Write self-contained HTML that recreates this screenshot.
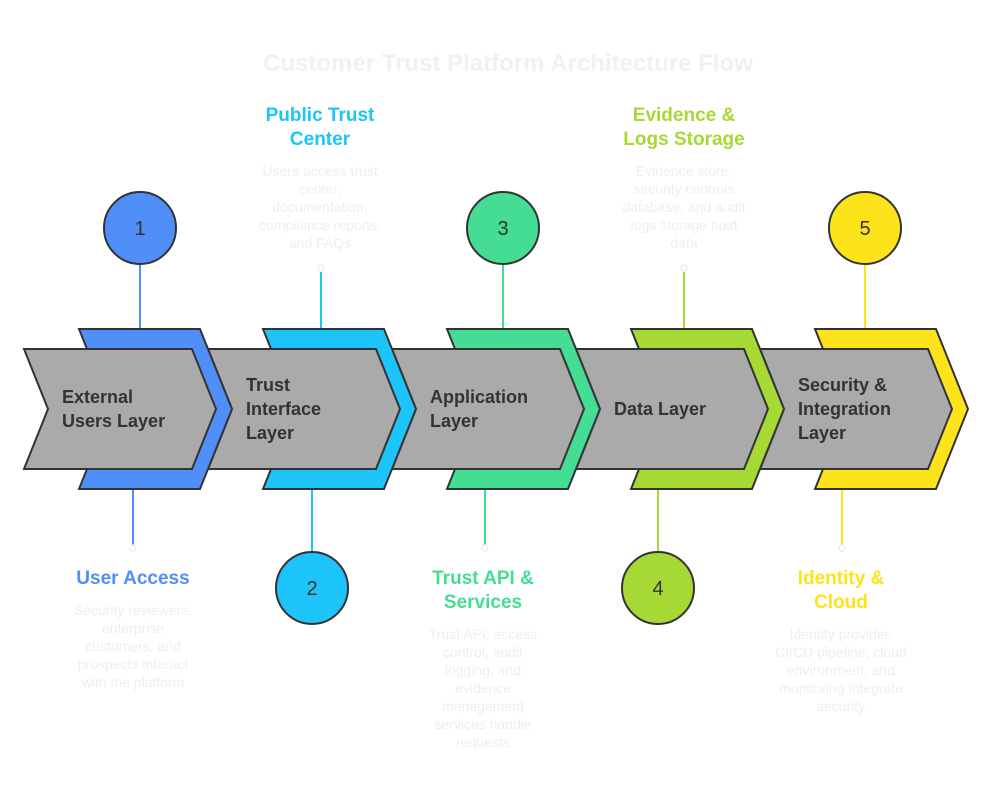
<!DOCTYPE html>
<html><head><meta charset="utf-8"><style>
body{margin:0;background:#fff;}
svg{display:block;font-family:"Liberation Sans",sans-serif;}
.h{font-weight:bold;font-size:19px;text-anchor:middle;}
.d{font-size:14px;fill:#eeeeee;text-anchor:middle;}
.n{font-weight:bold;font-size:18px;fill:#333;}
.c{font-size:20px;fill:#333;text-anchor:middle;}
</style></head><body>
<svg width="1008" height="799" viewBox="0 0 1008 799">
<text x="508" y="71" text-anchor="middle" font-weight="bold" font-size="24" fill="#f1f1f1">Customer Trust Platform Architecture Flow</text>

<g stroke-width="2">
<line x1="140" y1="264" x2="140" y2="330" stroke="#4f8ff7"/>
<line x1="321" y1="272" x2="321" y2="330" stroke="#1cc4f9"/>
<line x1="503" y1="264" x2="503" y2="330" stroke="#45dc93"/>
<line x1="684" y1="272" x2="684" y2="330" stroke="#a6d934"/>
<line x1="865" y1="264" x2="865" y2="330" stroke="#fde319"/>
<line x1="133" y1="488" x2="133" y2="545" stroke="#4f8ff7"/>
<line x1="312" y1="488" x2="312" y2="552" stroke="#1cc4f9"/>
<line x1="485" y1="488" x2="485" y2="545" stroke="#45dc93"/>
<line x1="658" y1="488" x2="658" y2="552" stroke="#a6d934"/>
<line x1="842" y1="488" x2="842" y2="545" stroke="#fde319"/>
</g>
<g fill="#fff" stroke="#eee" stroke-width="1.5">
<circle cx="321" cy="268" r="3"/><circle cx="684" cy="268" r="3"/>
<circle cx="133" cy="548" r="3"/><circle cx="485" cy="548" r="3"/><circle cx="842" cy="548" r="3"/>
</g>

<g stroke="#333" stroke-width="2" stroke-linejoin="miter">
<g transform="translate(736,0)"><polygon points="79,329 200,329 232,409 200,489 79,489 111,409" fill="#fde319"/><polygon points="24,349 192,349 216,409 192,469 24,469 48,409" fill="#aaaaaa"/></g>
<g transform="translate(552,0)"><polygon points="79,329 200,329 232,409 200,489 79,489 111,409" fill="#a6d934"/><polygon points="24,349 192,349 216,409 192,469 24,469 48,409" fill="#aaaaaa"/></g>
<g transform="translate(368,0)"><polygon points="79,329 200,329 232,409 200,489 79,489 111,409" fill="#45dc93"/><polygon points="24,349 192,349 216,409 192,469 24,469 48,409" fill="#aaaaaa"/></g>
<g transform="translate(184,0)"><polygon points="79,329 200,329 232,409 200,489 79,489 111,409" fill="#1cc4f9"/><polygon points="24,349 192,349 216,409 192,469 24,469 48,409" fill="#aaaaaa"/></g>
<g><polygon points="79,329 200,329 232,409 200,489 79,489 111,409" fill="#4f8ff7"/><polygon points="24,349 192,349 216,409 192,469 24,469 48,409" fill="#aaaaaa"/></g>
</g>

<text class="n" x="62" y="403">External</text><text class="n" x="62" y="427">Users Layer</text>
<text class="n" x="246" y="391">Trust</text><text class="n" x="246" y="415">Interface</text><text class="n" x="246" y="439">Layer</text>
<text class="n" x="430" y="403">Application</text><text class="n" x="430" y="427">Layer</text>
<text class="n" x="614" y="415">Data Layer</text>
<text class="n" x="798" y="391">Security &amp;</text><text class="n" x="798" y="415">Integration</text><text class="n" x="798" y="439">Layer</text>

<g stroke="#333" stroke-width="2">
<circle cx="140" cy="228" r="36" fill="#4f8ff7"/>
<circle cx="312" cy="588" r="36" fill="#1cc4f9"/>
<circle cx="503" cy="228" r="36" fill="#45dc93"/>
<circle cx="658" cy="588" r="36" fill="#a6d934"/>
<circle cx="865" cy="228" r="36" fill="#fde319"/>
</g>
<text class="c" x="140" y="235">1</text><text class="c" x="312" y="595">2</text><text class="c" x="503" y="235">3</text><text class="c" x="658" y="595">4</text><text class="c" x="865" y="235">5</text>

<text class="h" x="320" y="121" fill="#1cc4f9">Public Trust</text><text class="h" x="320" y="145" fill="#1cc4f9">Center</text>
<text class="d" x="320" y="176">Users access trust</text><text class="d" x="320" y="194">center,</text><text class="d" x="320" y="212">documentation,</text><text class="d" x="320" y="230">compliance reports,</text><text class="d" x="320" y="248">and FAQs</text>
<text class="h" x="684" y="121" fill="#a6d934">Evidence &amp;</text><text class="h" x="684" y="145" fill="#a6d934">Logs Storage</text>
<text class="d" x="684" y="176">Evidence store,</text><text class="d" x="684" y="194">security controls</text><text class="d" x="684" y="212">database, and audit</text><text class="d" x="684" y="230">logs storage hold</text><text class="d" x="684" y="248">data</text>

<text class="h" x="133" y="584" fill="#4f8ff7">User Access</text>
<text class="d" x="133" y="615">Security reviewers,</text><text class="d" x="133" y="633">enterprise</text><text class="d" x="133" y="651">customers, and</text><text class="d" x="133" y="669">prospects interact</text><text class="d" x="133" y="687">with the platform</text>
<text class="h" x="483" y="584" fill="#45dc93">Trust API &amp;</text><text class="h" x="483" y="608" fill="#45dc93">Services</text>
<text class="d" x="483" y="639">Trust API, access</text><text class="d" x="483" y="657">control, audit</text><text class="d" x="483" y="675">logging, and</text><text class="d" x="483" y="693">evidence</text><text class="d" x="483" y="711">management</text><text class="d" x="483" y="729">services handle</text><text class="d" x="483" y="747">requests</text>
<text class="h" x="841" y="584" fill="#fde319">Identity &amp;</text><text class="h" x="841" y="608" fill="#fde319">Cloud</text>
<text class="d" x="841" y="639">Identity provider,</text><text class="d" x="841" y="657">CI/CD pipeline, cloud</text><text class="d" x="841" y="675">environment, and</text><text class="d" x="841" y="693">monitoring integrate</text><text class="d" x="841" y="711">security</text>
</svg>
</body></html>
